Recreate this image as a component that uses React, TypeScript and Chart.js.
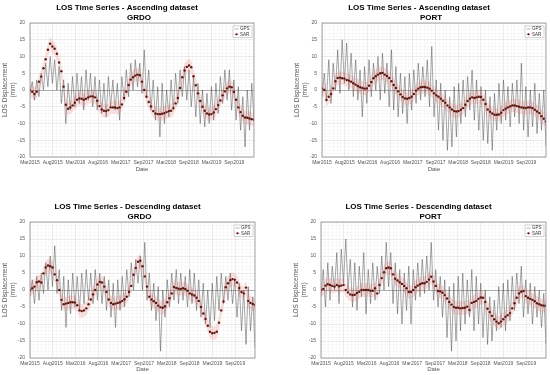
import React, { useEffect, useRef } from 'react';
import { Chart, registerables } from 'chart.js';

Chart.register(...registerables);

const FONT = "'Liberation Sans', Arial, Helvetica, sans-serif";

// x axis tick labels (one major tick per half-year step)
const TICK_LABELS = ['Mar2015', 'Aug2015', 'Mar2016', 'Aug2016', 'Mar2017', 'Sep2017', 'Mar2018', 'Sep2018', 'Mar2019', 'Sep2019'];
const X_MAX = 9.87; // extent of the time axis in major-tick units
const Y_MIN = -20;
const Y_MAX = 20;
const SAR_ERR = 2; // mm, half-width of SAR error bars

// ---------- Ascending GRDO ----------
const GPS_ASC_GRDO = [-1, 2.5, -3, 3, -2, 5, 0, 8, 1, 10,
  2, 9, 0, 7, -4, 3, -10, 2, -6, 4,
  -5, 5, -4, 4, -6, 6, -3, 5, -5, 4,
  -6, 3, -7, 2, -8, 4, -5, 3, -6, 2,
  -9, 4, -3, 6, -2, 8, 0, 9, 1, 8,
  -1, 12, -2, 6, -6, 3, -9, 1, -14, 2,
  -10, 0, -8, 3, -6, 5, -4, 6, -2, 7,
  -3, 6, -5, 4, -8, 2, -10, 0, -11, -1,
  -10, 1, -9, 2, -7, 4, -4, 6, -3, 6,
  -6, 3, -9, 1, -12, -2, -17, 0, -12, 2,
  -9];
const SAR_ASC_GRDO = [0, -0.5, -1.2, -0.5, 2.5, 4, 6.5, 9.2, 12, 13.8,
  13, 12.3, 10.8, 8.2, 5.6, 1, -4.4, -5.6, -5.2, -4.6,
  -3.8, -2.9, -2.5, -2.6, -2.9, -2.6, -2.2, -1.9, -1.9, -2.2,
  -3.2, -4.8, -5.8, -6.2, -6.3, -6, -5.2, -5.2, -5.2, -5.4,
  -5.2, -4.3, -2.4, -0.5, 1.5, 3.1, 3.8, 4.3, 4.6, 4.4,
  2.5, 0, -2, -3.6, -4.9, -6.3, -7, -7.2, -7.2, -7.1,
  -6.9, -6.6, -6.3, -6.2, -5.4, -4, -2.4, 0.6, 3.8, 5.8,
  6.9, 7.3, 6.8, 4.1, 1.4, -1, -3.3, -5, -6.2, -7,
  -7.3, -7.2, -6.7, -5.7, -4.5, -3.1, -1.6, -0.4, 0.5, 1,
  0.8, -0.6, -2.9, -5.2, -6.6, -7.7, -8.2, -8.3, -8.5, -8.7,
  -8.9];

// ---------- Ascending PORT ----------
const GPS_ASC_PORT = [-2, 5, -3, 9, -4, 8, 0, 12, -1, 15,
  2, 14, 0, 11, -2, 9, -3, 6, -8, 7,
  -4, 9, -2, 8, 0, 10, -3, 11, -1, 8,
  -5, 12, -6, 7, -8, 5, -7, 4, -10, 5,
  -6, 6, -4, 8, -3, 7, -2, 9, -5, 13,
  -8, 3, -12, 2, -15, 0, -18, -2, -17, 1,
  -14, 2, -10, 3, -8, 4, -6, 6, -9, 3,
  -12, 1, -15, 0, -16, -2, -18, -1, -12, 2,
  -10, 3, -9, 1, -11, 2, -8, 3, -10, 8,
  -12, 1, -14, 0, -11, 2, -13, -1, -12, 0,
  -17];
const SAR_ASC_PORT = [0.5, 0, -3, -2, -1.2, 0.5, 2.6, 3.6, 3.7, 3.5,
  3.4, 3, 2.8, 2.5, 2, 1.6, 1.2, 0.8, 0.6, 0.4,
  0.5, 1.3, 2.4, 3.5, 4.1, 4.6, 5, 5.1, 4.6, 4.2,
  3.6, 2.6, 1.5, 0.6, -0.4, -1.3, -2.1, -2.5, -2.6, -2.4,
  -2, -1.2, -0.2, 0.4, 0.8, 0.9, 0.9, 0.7, 0.4, -0.2,
  -1, -1.6, -2, -2.6, -3.2, -3.8, -4.6, -5.2, -5.8, -6.3,
  -6.4, -6.3, -5.9, -5.4, -4.4, -3.3, -2.6, -2.2, -2.4, -2.2,
  -2, -2.1, -2.9, -4.2, -5.8, -6.5, -7, -7.4, -7.4, -7.3,
  -6.8, -6, -5.6, -5.2, -4.9, -4.6, -4.6, -4.8, -5, -5.2,
  -5.3, -5.4, -5.2, -5.2, -5.4, -5.9, -6.4, -6.9, -7.8, -8.6,
  -9.4];

// ---------- Descending GRDO ----------
const GPS_DESC_GRDO = [-2, 3, -4, 4, -3, 5, -1, 8, 0, 10,
  1, 13, -1, 6, -6, 4, -11, 3, -7, 5,
  -5, 4, -6, 5, -4, 6, -3, 5, -4, 6,
  -3, 5, -4, 4, -6, 3, -8, 2, -11, 3,
  -6, 4, -5, 6, -2, 8, 0, 9, 2, 10,
  0, 14, -3, 5, -6, 2, -9, 1, -18, 0,
  -8, 3, -5, 5, -3, 6, -4, 5, -3, 4,
  -5, 6, -4, 5, -6, 3, -8, 2, -10, 0,
  -11, 2, -9, 4, -6, 5, -4, 4, -3, 5,
  -4, 3, -8, 2, -12, 0, -16, 1, -12, -2,
  -17];
const SAR_DESC_GRDO = [0, 0.5, 1, 2.3, 2.5, 2.2, 4.9, 6.6, 7.2, 7,
  6.6, 4.6, 2.9, 0, -2.9, -4.2, -4, -3.8, -3.6, -3.6,
  -3.7, -4.5, -6, -6.2, -6, -5.4, -4.2, -2.8, -1.3, 0,
  1.6, 2.4, 2.2, 1, -0.6, -2.8, -3.8, -4.2, -4, -3.8,
  -3.6, -3.2, -2.7, -2, -0.6, 1.2, 4.5, 6.5, 8.3, 8.6,
  7, 4, 1, -2, -2.8, -3.3, -3.8, -4.6, -5.1, -5.2,
  -4.8, -3.6, -2.4, -1, 0.9, 0.6, 0.4, 0.3, 0.5, 0.3,
  -0.2, -1, -1.3, -1.6, -2.3, -3.2, -5, -6.9, -8.5, -10.5,
  -12.3, -12.7, -12.6, -12.3, -9.6, -6, -3.4, 0.8, 2, 2.9,
  3.2, 3, 2.2, 0.6, -0.6, -1, 0.7, -3.2, -3.8, -4.1,
  -4.4];

// ---------- Descending PORT ----------
const GPS_DESC_PORT = [-2, 6, -5, 8, -3, 7, 0, 11, -4, 12,
  2, 15, 0, 9, -5, 8, -6, 7, -2, 11,
  -7, 6, -4, 8, -3, 7, -1, 10, 0, 14,
  1, 11, -4, 8, -7, 6, -10, 5, -6, 7,
  -10, 6, -3, 8, -2, 9, -1, 10, 0, 14,
  -3, 6, -5, 4, -8, 3, -14, 1, -18, 2,
  -15, 4, -12, 5, -10, 3, -8, 6, -12, 4,
  -10, 2, -14, 0, -16, -2, -15, -3, -12, 1,
  -11, 2, -12, 3, -9, 4, -6, 5, -4, 7,
  -8, 3, -7, 2, -10, 1, -8, 0, -11, -1,
  -16];
const SAR_DESC_PORT = [0, 0.3, 1.3, 1.7, 1.5, 1.2, 1, 1.5, 1.1, 1.3,
  1.5, 0, -0.7, -1.3, -1.5, -1.4, -0.9, -0.5, 0, 0,
  0, 0, -0.2, -0.2, 0.5, -1, 1.5, 3.5, 5.2, 6.4,
  6.6, 6.4, 4.6, 3.3, 2.8, 2.3, 1.8, 1.2, 0.5, -0.6,
  -0.6, 0, 0.8, 1.3, 1.7, 2, 2, 2.4, 3.1, 3.9,
  2.5, 1.2, -0.3, -0.4, -0.8, -1.5, -2.5, -3.5, -4.3, -5,
  -5.2, -5.2, -5.4, -5.3, -5.2, -4.9, -5.9, -3.8, -3.5, -3.2,
  -2.6, -2.2, -2.3, -3.5, -5.5, -6.5, -7.6, -8.6, -9.3, -9.8,
  -9.3, -8.6, -7.9, -7.4, -6.8, -5.4, -3.9, -2.3, -1, -0.5,
  -0.3, -1.8, -2.3, -2.6, -2.9, -3.3, -3.9, -4.2, -4.5, -4.6,
  -4.6];

const TITLES = ['LOS Time Series - Ascending dataset', 'LOS Time Series - Ascending dataset', 'LOS Time Series - Descending dataset', 'LOS Time Series - Descending dataset'];
const STATIONS = ['GRDO', 'PORT', 'GRDO', 'PORT'];
const GPS_SERIES = [GPS_ASC_GRDO, GPS_ASC_PORT, GPS_DESC_GRDO, GPS_DESC_PORT];
const SAR_SERIES = [SAR_ASC_GRDO, SAR_ASC_PORT, SAR_DESC_GRDO, SAR_DESC_PORT];

// layout of each panel (canvas box and plot box inside the canvas)
const LAYOUT = [
  { left: 0, top: 0, w: 275, h: 175, plotL: 30, plotR: 254, plotT: 23, plotB: 157 },
  { left: 292, top: 0, w: 258, h: 175, plotL: 30, plotR: 254, plotT: 23, plotB: 157 },
  { left: 0, top: 199, w: 275, h: 176, plotL: 30, plotR: 255, plotT: 23, plotB: 159 },
  { left: 291, top: 199, w: 259, h: 176, plotL: 30, plotR: 256, plotT: 23, plotB: 159 },
];

const X_TICKS: number[] = [];
for (let k = 0; k / 6 <= X_MAX + 1e-9; k++) X_TICKS.push(k / 6);

const toPts = (arr: number[]) => arr.map((v, i) => ({ x: (i * X_MAX) / (arr.length - 1), y: v }));

function buildConfig(idx: number): any {
  const L = LAYOUT[idx];
  const gps = GPS_SERIES[idx];
  const sar = SAR_SERIES[idx];
  const title = TITLES[idx];
  const station = STATIONS[idx];

  const deco = {
    id: 'deco' + idx,
    afterDatasetsDraw(chart: any) {
      const { ctx, chartArea: a } = chart;
      ctx.save();
      // axes box
      ctx.strokeStyle = '#8c8c8c';
      ctx.lineWidth = 0.8;
      ctx.strokeRect(a.left, a.top, a.right - a.left, a.bottom - a.top);
      // legend
      const bw = 19, bh = 11.5;
      const bx = a.right - 2 - bw, by = a.top + 3;
      ctx.fillStyle = '#ffffff';
      ctx.fillRect(bx, by, bw, bh);
      ctx.strokeStyle = '#a8a8a8';
      ctx.lineWidth = 0.5;
      ctx.strokeRect(bx, by, bw, bh);
      ctx.strokeStyle = '#808080';
      ctx.lineWidth = 0.6;
      ctx.beginPath();
      ctx.moveTo(bx + 1.5, by + 3);
      ctx.lineTo(bx + 5.5, by + 3);
      ctx.stroke();
      ctx.strokeStyle = '#e07070';
      ctx.beginPath();
      ctx.moveTo(bx + 1.5, by + 8.3);
      ctx.lineTo(bx + 5.5, by + 8.3);
      ctx.stroke();
      ctx.fillStyle = '#5c1710';
      ctx.beginPath();
      ctx.arc(bx + 3.5, by + 8.3, 1.1, 0, Math.PI * 2);
      ctx.fill();
      ctx.fillStyle = '#333333';
      ctx.font = `4.5px ${FONT}`;
      ctx.textAlign = 'left';
      ctx.textBaseline = 'middle';
      ctx.fillText('GPS', bx + 7, by + 3.2);
      ctx.fillText('SAR', bx + 7, by + 8.5);
      // titles
      const cx = (a.left + a.right) / 2;
      ctx.fillStyle = '#000000';
      ctx.font = `bold 8px ${FONT}`;
      ctx.textAlign = 'center';
      ctx.fillText(title, cx - 15, a.top - 15.5);
      ctx.fillText(station, cx - 3, a.top - 5.5);
      ctx.restore();
    },
  };

  return {
    type: 'line',
    data: {
      datasets: [
        {
          label: 'SAR',
          data: toPts(sar),
          showLine: false,
          pointRadius: 1.2,
          pointBackgroundColor: '#5c1710',
          pointBorderColor: '#5c1710',
          pointBorderWidth: 0,
          borderColor: '#5c1710',
        },
        {
          label: 'SAR error upper',
          data: toPts(sar.map((v) => v + SAR_ERR)),
          borderWidth: 0,
          borderColor: 'rgba(0,0,0,0)',
          pointRadius: 0,
          fill: '+1',
          backgroundColor: 'rgba(235,100,100,0.2)',
        },
        {
          label: 'SAR error lower',
          data: toPts(sar.map((v) => v - SAR_ERR)),
          borderWidth: 0,
          borderColor: 'rgba(0,0,0,0)',
          pointRadius: 0,
          fill: false,
        },
        {
          label: 'GPS',
          data: toPts(gps),
          borderColor: 'rgba(70,70,70,0.72)',
          borderWidth: 0.65,
          pointRadius: 0,
          fill: false,
        },
      ],
    },
    options: {
      responsive: false,
      animation: false,
      devicePixelRatio: 1,
      events: [],
      layout: { padding: { left: 0, right: L.w - L.plotR, top: L.plotT, bottom: 0 } },
      plugins: { legend: { display: false }, tooltip: { enabled: false }, title: { display: false } },
      scales: {
        x: {
          type: 'linear',
          min: 0,
          max: X_MAX,
          afterBuildTicks: (scale: any) => {
            scale.ticks = X_TICKS.map((v) => ({ value: v }));
          },
          afterFit: (scale: any) => {
            scale.height = L.h - L.plotB;
          },
          ticks: {
            autoSkip: false,
            maxRotation: 0,
            minRotation: 0,
            padding: 3,
            color: '#555555',
            font: { family: FONT, size: 5 },
            callback: (v: any) => {
              const k = Math.round(Number(v) * 6);
              if (Math.abs(Number(v) * 6 - k) < 1e-6 && k % 6 === 0) return TICK_LABELS[k / 6] ?? '';
              return '';
            },
          },
          grid: {
            drawTicks: false,
            lineWidth: 0.6,
            color: (c: any) => {
              const v = c.tick ? c.tick.value : 0;
              const k = Math.round(v * 6);
              return k % 6 === 0 ? 'rgba(0,0,0,0.13)' : 'rgba(0,0,0,0.045)';
            },
          },
          border: { display: false },
          title: {
            display: true,
            text: 'Date',
            color: '#555555',
            font: { family: FONT, size: 6 },
            padding: { top: 0, bottom: 2.2 },
          },
        },
        y: {
          min: Y_MIN,
          max: Y_MAX,
          afterFit: (scale: any) => {
            scale.width = L.plotL;
          },
          ticks: {
            stepSize: 1,
            autoSkip: false,
            padding: 5,
            color: '#555555',
            font: { family: FONT, size: 5 },
            callback: (v: any) => (Number(v) % 5 === 0 ? String(v) : ''),
          },
          grid: {
            drawTicks: false,
            lineWidth: (c: any) => (c.tick && c.tick.value === 0 ? 0.8 : 0.6),
            color: (c: any) => {
              const v = c.tick ? c.tick.value : 1;
              if (v === 0) return 'rgba(0,0,0,0.4)';
              return v % 5 === 0 ? 'rgba(0,0,0,0.13)' : 'rgba(0,0,0,0.045)';
            },
          },
          border: { display: false },
          title: {
            display: true,
            text: ['LOS Displacement', '(mm)'],
            color: '#555555',
            font: { family: FONT, size: 6.5 },
            padding: { top: 1.5, bottom: 0 },
          },
        },
      },
    },
    plugins: [deco],
  };
}

function Panel({ idx }: { idx: number }) {
  const ref = useRef<HTMLCanvasElement | null>(null);
  const L = LAYOUT[idx];
  useEffect(() => {
    const canvas = ref.current;
    if (!canvas) return;
    const chart = new Chart(canvas, buildConfig(idx));
    return () => chart.destroy();
  }, [idx]);
  return (
    <canvas
      ref={ref}
      width={L.w}
      height={L.h}
      style={{ position: 'absolute', left: L.left, top: L.top, width: L.w, height: L.h }}
    />
  );
}

export default function App() {
  return (
    <div style={{ position: 'absolute', left: 0, top: 0, width: 550, height: 375, background: '#ffffff', overflow: 'hidden' }}>
      {[0, 1, 2, 3].map((i) => (
        <Panel key={i} idx={i} />
      ))}
    </div>
  );
}
